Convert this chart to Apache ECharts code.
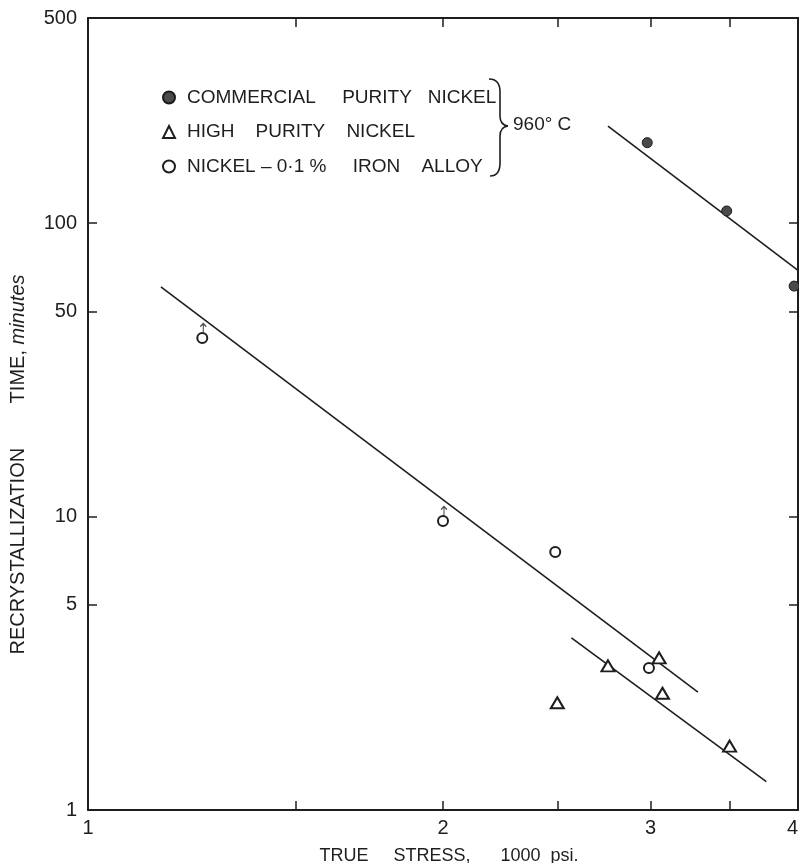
<!DOCTYPE html>
<html><head><meta charset="utf-8">
<script src="https://cdn.jsdelivr.net/npm/echarts@6/dist/echarts.min.js"></script>
<style>html,body{margin:0;padding:0;background:#fff;overflow:hidden}#chart{position:absolute;left:0;top:0;width:799px;height:863px}</style>
</head><body><div id="chart"></div>
<script>
const seriesNames = ['COMMERCIAL     PURITY   NICKEL', 'HIGH    PURITY    NICKEL', 'NICKEL – 0·1 %     IRON    ALLOY'];
const commercialStress = [2.98, 3.48, 3.97];
const commercialTime = [188, 110, 61];
const highPurityStress = [2.50, 2.76, 3.05, 3.07, 3.50];
const highPurityTime = [2.32, 3.10, 3.30, 2.50, 1.65];
const ironStress = [1.25, 2.0, 2.49, 2.99];
const ironTime = [40.6, 9.66, 7.57, 3.05];
const arrowStress = [1.25, 2.0];
const arrowTime = [40.6, 9.66];
const commercialFitStress = [2.76, 4.0];
const commercialFitTime = [214, 69];
const ironFitStress = [1.153, 3.29];
const ironFitTime = [60.6, 2.52];
const highPurityFitStress = [2.57, 3.76];
const highPurityFitTime = [3.86, 1.25];
const xTickValues = [1.5, 2, 2.5, 3, 3.5, 4];
const xLabelValues = [1, 2, 3, 4];
const yTickValues = [5, 10, 50, 100];
const yLabelValues = [1, 5, 10, 50, 100, 500];
const xTitle = 'TRUE     STRESS,      1000  psi.';
const yTitleMain = 'RECRYSTALLIZATION        TIME, ';
const yTitleUnit = 'minutes';
const tempLabel = '960° C';

const zip = (a, b) => a.map((v, i) => [v, b[i]]);
const INK = '#1e1e1e';
const FONT = 'Liberation Sans';

const axisCommon = {
  type: 'log', splitLine: { show: false },
  axisLine: { show: true, lineStyle: { color: INK, width: 2 } },
  axisTick: { show: true, inside: true, length: 9, lineStyle: { color: INK, width: 1.5 } }
};

const chart = echarts.init(document.getElementById('chart'), null, { renderer: 'canvas', width: 799, height: 863 });
const fitLine = (xs, ys) => ({
  type: 'line', data: zip(xs, ys), showSymbol: false, symbol: 'none', silent: true,
  lineStyle: { color: INK, width: 1.6 }, z: 1
});
const braceStyle = { fill: 'none', stroke: INK, lineWidth: 1.6 };

chart.setOption({
  backgroundColor: '#ffffff',
  animation: false,
  grid: { left: 88, right: 1, top: 18, bottom: 53, containLabel: false, outerBoundsMode: 'none' },
  legend: {
    data: seriesNames, orient: 'vertical', left: 157, top: 83, itemGap: 15.5,
    itemWidth: 12, itemHeight: 12, selectedMode: false,
    textStyle: { fontFamily: FONT, fontSize: 19, color: INK, lineHeight: 19, padding: [0, 0, 0, 7] }
  },
  xAxis: [
    Object.assign({}, axisCommon, {
      position: 'bottom', min: 1, max: 4,
      axisTick: Object.assign({}, axisCommon.axisTick, { customValues: xTickValues }),
      axisLabel: { customValues: xLabelValues, margin: 8, fontFamily: FONT, fontSize: 20, color: INK, alignMaxLabel: 'right' },
      name: xTitle, nameLocation: 'middle', nameGap: 37,
      nameTextStyle: { fontFamily: FONT, fontSize: 18, color: INK, padding: [0, 0, 0, 12] }
    }),
    Object.assign({}, axisCommon, {
      position: 'top', min: 1, max: 4,
      axisTick: Object.assign({}, axisCommon.axisTick, { customValues: xTickValues }),
      axisLabel: { show: false }
    })
  ],
  yAxis: [
    Object.assign({}, axisCommon, {
      position: 'left', min: 1, max: 500,
      axisTick: Object.assign({}, axisCommon.axisTick, { customValues: yTickValues }),
      axisLabel: { customValues: yLabelValues, margin: 11, fontFamily: FONT, fontSize: 20, color: INK },
      name: '{m|' + yTitleMain + '}{i|' + yTitleUnit + '}', nameLocation: 'middle', nameGap: 60, nameRotate: 90,
      nameTextStyle: {
        padding: [0, 101, 0, 0],
        rich: {
          m: { fontFamily: FONT, fontSize: 20, color: INK },
          i: { fontFamily: FONT, fontSize: 20, fontStyle: 'italic', color: INK }
        }
      }
    }),
    Object.assign({}, axisCommon, {
      position: 'right', min: 1, max: 500,
      axisTick: Object.assign({}, axisCommon.axisTick, { customValues: yTickValues }),
      axisLabel: { show: false }
    })
  ],
  series: [
    {
      name: seriesNames[0], type: 'scatter', data: zip(commercialStress, commercialTime),
      symbol: 'circle', symbolSize: 10, z: 3,
      itemStyle: { color: '#4a4a4a', borderColor: '#1a1a1a', borderWidth: 1, opacity: 1 }
    },
    {
      name: seriesNames[1], type: 'scatter', data: zip(highPurityStress, highPurityTime),
      symbol: 'emptyTriangle', symbolSize: [13, 11], z: 3,
      itemStyle: { color: INK, borderColor: INK, borderWidth: 1.6, opacity: 1 }
    },
    {
      name: seriesNames[2], type: 'scatter', data: zip(ironStress, ironTime),
      symbol: 'emptyCircle', symbolSize: 10, z: 3,
      itemStyle: { color: INK, borderColor: INK, borderWidth: 1.6, opacity: 1 }
    },
    {
      name: 'arrows', type: 'scatter', data: zip(arrowStress, arrowTime),
      symbol: 'path://M5,0 L5,14 M2,5 L5,0 L8,5', symbolSize: [6, 9], symbolOffset: [1, -10], z: 2,
      itemStyle: { color: 'none', borderColor: INK, borderWidth: 1.3 }
    },
    fitLine(commercialFitStress, commercialFitTime),
    fitLine(ironFitStress, ironFitTime),
    fitLine(highPurityFitStress, highPurityFitTime)
  ],
  graphic: [
    { type: 'bezierCurve', z: 10, shape: { x1: 489, y1: 79, cpx1: 500, cpy1: 79, x2: 500, y2: 92 }, style: braceStyle },
    { type: 'line', z: 10, shape: { x1: 500, y1: 92, x2: 500, y2: 116 }, style: braceStyle },
    { type: 'bezierCurve', z: 10, shape: { x1: 500, y1: 116, cpx1: 500, cpy1: 125, x2: 508, y2: 126 }, style: braceStyle },
    { type: 'bezierCurve', z: 10, shape: { x1: 508, y1: 126, cpx1: 500, cpy1: 127, x2: 500, y2: 136 }, style: braceStyle },
    { type: 'line', z: 10, shape: { x1: 500, y1: 136, x2: 500, y2: 163 }, style: braceStyle },
    { type: 'bezierCurve', z: 10, shape: { x1: 500, y1: 163, cpx1: 500, cpy1: 176, x2: 490, y2: 176 }, style: braceStyle },
    {
      type: 'text', left: 513, top: 115, z: 10,
      style: { text: tempLabel, fontFamily: FONT, fontSize: 19, fill: INK }
    }
  ]
});
</script></body></html>
